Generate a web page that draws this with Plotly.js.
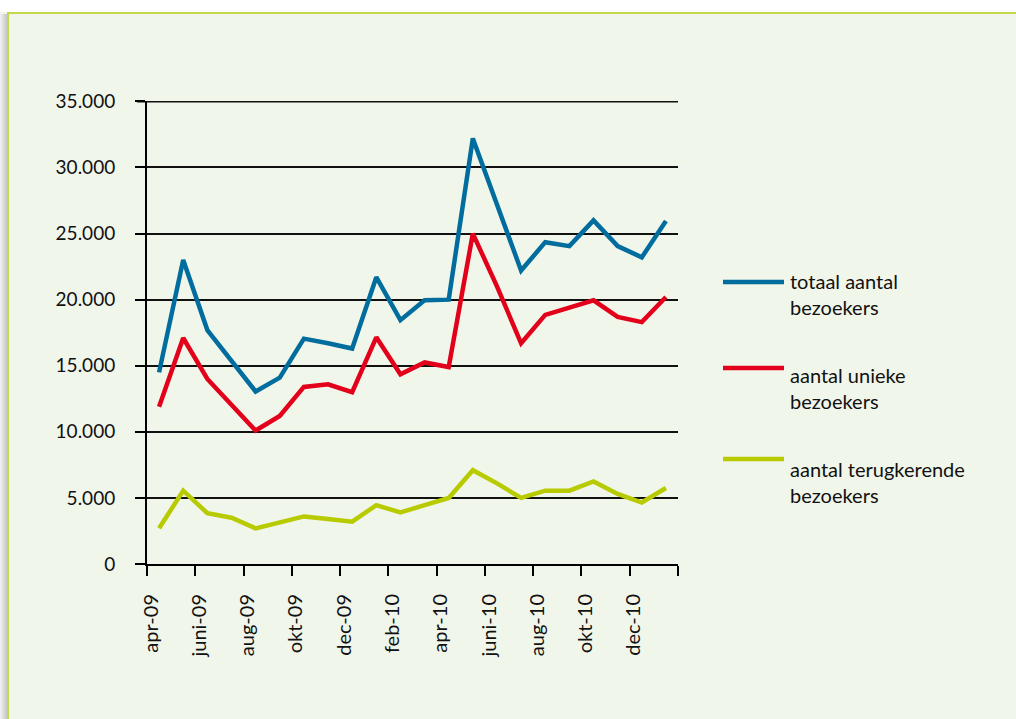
<!DOCTYPE html>
<html>
<head>
<meta charset="utf-8">
<script src="https://cdn.plot.ly/plotly-3.0.1.min.js"></script>
<style>
  html, body { margin: 0; padding: 0; background: #ffffff; }
  #chart { width: 1016px; height: 719px; }
</style>
</head>
<body>
<div id="chart"></div>
<script>
// ---- data ----
const months = ['apr-09','mei-09','juni-09','juli-09','aug-09','sep-09','okt-09','nov-09','dec-09',
                'jan-10','feb-10','mrt-10','apr-10','mei-10','juni-10','juli-10','aug-10','sep-10',
                'okt-10','nov-10','dec-10','jan-11'];
const totaal = [14500,23000,17700,15400,13050,14100,17050,16700,16300,21700,18450,19950,
                20000,32200,27300,22200,24350,24050,26000,24050,23200,25950];
const uniek  = [11900,17100,14000,12000,10100,11200,13400,13600,13000,17150,14350,15250,
                14900,25000,21000,16700,18850,19400,19950,18700,18300,20200];
const terug  = [2700,5550,3850,3500,2700,3150,3600,3400,3200,4450,3900,4450,
                5000,7100,6100,5000,5550,5550,6250,5300,4650,5750];
const tickLabels = ['apr-09','juni-09','aug-09','okt-09','dec-09','feb-10','apr-10',
                    'juni-10','aug-10','okt-10','dec-10'];
const seriesNames = ['totaal aantal<br>bezoekers','aantal unieke<br>bezoekers','aantal terugkerende<br>bezoekers'];

// ---- styling ----
const colors = ['#006d9e', '#e2001a', '#b7cb00'];
const FONT = 'Lato, "Open Sans", sans-serif';

// plot area in pixels
const L = 147, R = 678, T = 101, B = 564;
const W = 1016, H = 719;
const YMAX = 35000, YTOP = 35030;
const px = x => (x - L) / (R - L);
const py = y => (B - y) / (B - T);

const xIdx = months.map((m, i) => i);
const boundaries = [];
for (let i = 0; i <= months.length; i += 2) boundaries.push(i - 0.5);
const labelPos = tickLabels.map((t, k) => 2 * k - 0.33);

const traces = [totaal, uniek, terug].map((vals, s) => ({
  type: 'scatter', mode: 'lines', x: xIdx, y: vals,
  name: seriesNames[s], line: { color: colors[s], width: 4.5 },
  showlegend: false, hoverinfo: 'y'
}));

const shapes = [];
// page frame: white strip above, grey shadow at left, green border
shapes.push({ type: 'rect', xref: 'paper', yref: 'paper', x0: px(0), x1: px(W), y0: py(0), y1: py(12),
  fillcolor: '#ffffff', line: { width: 0 }, layer: 'below' });
const shadow = ['#c9c9c9', '#cfcfcf', '#d6d6d6', '#dcdcdc', '#e3e3e3', '#e9e9e9', '#efefef'];
shadow.forEach((c, i) => {
  shapes.push({ type: 'rect', xref: 'paper', yref: 'paper', x0: px(7 - i - 1), x1: px(7 - i), y0: py(14), y1: py(H),
    fillcolor: shadow[i], line: { width: 0 }, layer: 'below' });
});
shapes.push({ type: 'line', xref: 'paper', yref: 'paper', x0: px(7), x1: px(W), y0: py(13), y1: py(13),
  line: { color: '#c3d84a', width: 2 } });
shapes.push({ type: 'line', xref: 'paper', yref: 'paper', x0: px(8), x1: px(8), y0: py(12), y1: py(H),
  line: { color: '#c3d84a', width: 2 } });

// top gridline (at the range edge) drawn explicitly, with its tick
shapes.push({ type: 'line', xref: 'paper', yref: 'y', x0: px(137), x1: px(678), y0: YMAX, y1: YMAX,
  line: { color: '#111', width: 2 }, layer: 'below' });

// legend
const legY = [282, 368, 459];
const legTextY = [294, 388, 482];
const annotations = [];
legY.forEach((y, i) => {
  shapes.push({ type: 'line', xref: 'paper', yref: 'paper', x0: px(723), x1: px(784), y0: py(y), y1: py(y),
    line: { color: colors[i], width: 4.5 } });
  annotations.push({ xref: 'paper', yref: 'paper', x: px(788), y: py(legTextY[i]), xanchor: 'left', yanchor: 'middle',
    text: seriesNames[i], showarrow: false, align: 'left', font: { family: FONT, size: 20, color: '#111' } });
});

const layout = {
  width: W, height: H,
  margin: { l: L, r: W - R, t: T, b: H - B, pad: 0 },
  paper_bgcolor: '#f1f6eb', plot_bgcolor: 'rgba(0,0,0,0)',
  separators: ',.',
  font: { family: FONT, size: 19, color: '#111' },
  showlegend: false,
  xaxis: {
    range: [-0.5, months.length - 0.5], fixedrange: true,
    tickmode: 'array', tickvals: labelPos, ticktext: tickLabels, tickangle: -90,
    ticks: '', showgrid: false, zeroline: false,
    showline: true, linecolor: '#000', linewidth: 2,
    ticklabelstandoff: 20,
    tickfont: { family: FONT, size: 20, color: '#111' },
    minor: { tickmode: 'array', tickvals: boundaries, ticks: 'outside', ticklen: 10, tickwidth: 2, tickcolor: '#000', showgrid: false }
  },
  yaxis: {
    range: [0, YTOP], fixedrange: true,
    tickmode: 'linear', tick0: 0, dtick: 5000, tickformat: ',d',
    ticks: 'outside', ticklen: 10, tickwidth: 2, tickcolor: '#000',
    showgrid: true, gridcolor: '#111', gridwidth: 2,
    zeroline: false, showline: true, linecolor: '#000', linewidth: 2,
    ticklabelstandoff: 16,
    tickfont: { family: FONT, size: 19, color: '#111' }
  },
  shapes: shapes,
  annotations: annotations
};

Plotly.newPlot('chart', traces, layout, { displayModeBar: false, staticPlot: true });
</script>
</body>
</html>
